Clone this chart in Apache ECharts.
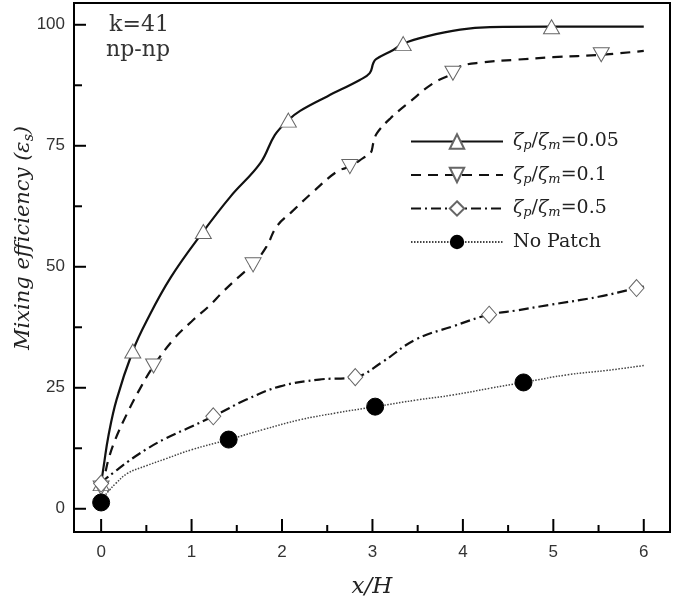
<!DOCTYPE html>
<html>
<head>
<meta charset="utf-8">
<script src="https://cdn.jsdelivr.net/npm/echarts@6/dist/echarts.min.js"></script>
<style>
  html, body { margin: 0; padding: 0; background: #fff; }
  #chart { width: 685px; height: 601px; }
</style>
</head>
<body>
<div id="chart"></div>
<script>
// x ticks / y ticks
const xTicks = [0, 1, 2, 3, 4, 5, 6]
const xMinorTicks = [0.5, 1.5, 2.5, 3.5, 4.5, 5.5]
const yTicks = [0, 25, 50, 75, 100]
const yMinorTicks = [12.5, 37.5, 62.5, 87.5]

// zeta_p/zeta_m = 0.05 (solid, up triangles)
const solidX = [0, 0.03, 0.08, 0.17, 0.35, 0.5, 0.77, 1.13, 1.43, 1.76, 1.92, 2.07, 2.2, 2.5, 2.86, 2.97, 3.01, 3.04, 3.23, 3.34, 3.6, 3.97, 4.3, 4.98, 5.5, 6.0]
const solidY = [5.2, 9, 15, 22.5, 32.6, 38.7, 47.8, 57.3, 64.5, 71.4, 77.2, 80.3, 82.2, 85.2, 88.6, 90, 92.1, 92.9, 94.8, 96.1, 97.6, 99, 99.5, 99.6, 99.6, 99.6]
const solidMarks = [0, 4, 7, 11, 19, 23]

// zeta_p/zeta_m = 0.1 (dashed, down triangles)
const dashX = [0, 0.04, 0.08, 0.15, 0.29, 0.45, 0.58, 0.8, 1.0, 1.2, 1.35, 1.57, 1.68, 1.83, 1.94, 2.11, 2.35, 2.61, 2.75, 2.9, 2.98, 3.01, 3.05, 3.2, 3.42, 3.67, 3.89, 3.97, 4.2, 4.6, 5.0, 5.53, 6.0]
const dashY = [4.3, 7, 10.1, 14, 19.8, 25.5, 29.5, 35, 38.7, 42, 44.9, 48.7, 50.4, 54.2, 58.3, 61.4, 65.6, 69.7, 70.7, 72.5, 73.5, 75.6, 77.6, 80.7, 84.2, 87.9, 90, 91.4, 92.2, 92.8, 93.3, 93.8, 94.6]
const dashMarks = [0, 6, 12, 18, 26, 31]

// zeta_p/zeta_m = 0.5 (dash-dot, diamonds)
const dotDashX = [0, 0.05, 0.14, 0.3, 0.5, 0.71, 1.0, 1.24, 1.6, 1.98, 2.41, 2.81, 3.1, 3.47, 3.89, 4.29, 4.6, 4.95, 5.5, 5.92, 6.0]
const dotDashY = [5.2, 6.2, 7.5, 9.8, 12.3, 14.5, 17, 19.1, 22.5, 25.3, 26.7, 27.2, 30.2, 34.9, 37.7, 40.1, 41, 42.1, 43.8, 45.6, 45.9]
const dotDashMarks = [0, 7, 11, 15, 19]

// No Patch (dotted, filled circles)
const dotX = [0, 0.04, 0.08, 0.16, 0.29, 0.5, 0.71, 1.0, 1.41, 1.8, 2.2, 2.6, 3.03, 3.5, 3.89, 4.3, 4.67, 5.16, 5.6, 6.0]
const dotY = [1.3, 2.6, 3.6, 5.2, 7.3, 8.9, 10.3, 12.2, 14.3, 16.4, 18.4, 19.8, 21.1, 22.5, 23.5, 24.9, 26.1, 27.7, 28.6, 29.6]
const dotMarks = [0, 8, 12, 16]

const names = ['ζp/ζm=0.05', 'ζp/ζm=0.1', 'ζp/ζm=0.5', 'No Patch']
const legendText = {
  'ζp/ζm=0.05': '{z|ζ}{s|p}{n|/}{z|ζ}{s|m}{n|=0.05}',
  'ζp/ζm=0.1': '{z|ζ}{s|p}{n|/}{z|ζ}{s|m}{n|=0.1}',
  'ζp/ζm=0.5': '{z|ζ}{s|p}{n|/}{z|ζ}{s|m}{n|=0.5}',
  'No Patch': '{n|No Patch}'
}

const serif = 'DejaVu Serif'
const X_MIN = -0.3
const X_MAX = 6.29
const Y_MIN = -4.8
const Y_MAX = 104.5

// 把曲线点和标记点合在一起，非标记点不画符号
const buildData = (xs, ys, marks) =>
  xs.map((x, i) => (marks.includes(i) ? [x, ys[i]] : { value: [x, ys[i]], symbol: 'none' }))

const hollow = () => ({ color: '#fff', borderColor: '#666', borderWidth: 1 })

const lineSeries = (name, data, lineStyle, symbol, symbolSize, itemStyle, extra) =>
  Object.assign({
    name,
    type: 'line',
    data,
    smooth: 0.4,
    showSymbol: true,
    showAllSymbol: true,
    symbol,
    symbolSize,
    lineStyle,
    itemStyle
  }, extra || {})

// 刻度线：axisTick 贴边时画不出来，改用 custom 系列按坐标轴换算
const xTickSeries = (values, len) => ({
  type: 'custom',
  silent: true,
  clip: false,
  z: 5,
  data: values.map((v) => [v, Y_MIN]),
  renderItem: (params, api) => {
    const p = api.coord([api.value(0), Y_MIN])
    return { type: 'line', shape: { x1: p[0], y1: p[1], x2: p[0], y2: p[1] - len }, style: { stroke: '#000', lineWidth: 2 } }
  }
})
const yTickSeries = (values, len) => ({
  type: 'custom',
  silent: true,
  clip: false,
  z: 5,
  data: values.map((v) => [X_MIN, v]),
  renderItem: (params, api) => {
    const p = api.coord([X_MIN, api.value(1)])
    return { type: 'line', shape: { x1: p[0], y1: p[1], x2: p[0] + len, y2: p[1] }, style: { stroke: '#000', lineWidth: 2 } }
  }
})

const chart = echarts.init(document.getElementById('chart'))

const option = {
  animation: false,
  backgroundColor: '#fff',
  grid: { left: 74, right: 15, top: 3, bottom: 69 },
  xAxis: {
    type: 'value', min: X_MIN, max: X_MAX,
    splitLine: { show: false },
    axisLine: { show: true, onZero: false, lineStyle: { color: '#000', width: 2 } },
    axisTick: { show: false },
    axisLabel: { customValues: xTicks, margin: 12, color: '#333', fontSize: 17, fontFamily: 'Liberation Sans' }
  },
  yAxis: {
    type: 'value', min: Y_MIN, max: Y_MAX,
    splitLine: { show: false },
    axisLine: { show: true, onZero: false, lineStyle: { color: '#000', width: 2 } },
    axisTick: { show: false },
    axisLabel: { customValues: yTicks, margin: 9, color: '#333', fontSize: 17, fontFamily: 'Liberation Sans' }
  },
  legend: {
    data: names,
    orient: 'vertical',
    left: 410,
    top: 132,
    padding: 0,
    itemGap: 13,
    itemWidth: 92,
    itemHeight: 18,
    formatter: (name) => legendText[name],
    textStyle: {
      fontFamily: serif,
      fontSize: 19,
      color: '#222',
      padding: [0, 0, 0, 5],
      rich: {
        n: { fontFamily: serif, fontSize: 19, color: '#222', lineHeight: 22 },
        z: { fontFamily: serif, fontSize: 19, fontStyle: 'italic', color: '#222', lineHeight: 22 },
        s: { fontFamily: serif, fontSize: 13, fontStyle: 'italic', color: '#222', lineHeight: 12, verticalAlign: 'bottom' }
      }
    }
  },
  graphic: [
    {
      type: 'text', x: 139, y: 25,
      style: { text: 'k=41', fontFamily: serif, fontSize: 22, fill: '#333', align: 'center', verticalAlign: 'middle' }
    },
    {
      type: 'text', x: 138, y: 50,
      style: { text: 'np-np', fontFamily: serif, fontSize: 22, fill: '#333', align: 'center', verticalAlign: 'middle' }
    },
    {
      type: 'text', x: 24, y: 238, rotation: Math.PI / 2,
      style: {
        text: '{i|Mixing efficiency (ε}{s|s}{i|)}',
        align: 'center', verticalAlign: 'middle',
        rich: {
          i: { fontFamily: serif, fontStyle: 'italic', fontSize: 21, fill: '#222', lineHeight: 24 },
          s: { fontFamily: serif, fontStyle: 'italic', fontSize: 14, fill: '#222', lineHeight: 14, verticalAlign: 'bottom' }
        }
      }
    },
    {
      type: 'text', x: 372, y: 587,
      style: { text: 'x/H', fontFamily: serif, fontStyle: 'italic', fontSize: 23, fill: '#222', align: 'center', verticalAlign: 'middle' }
    }
  ],
  series: [
    lineSeries(names[0], buildData(solidX, solidY, solidMarks),
      { color: '#111', width: 2.2, type: 'solid' }, 'triangle', [16, 14], hollow()),
    lineSeries(names[1], buildData(dashX, dashY, dashMarks),
      { color: '#111', width: 2.2, type: [10, 7] }, 'triangle', [16, 14], hollow(), { symbolRotate: 180 }),
    lineSeries(names[2], buildData(dotDashX, dotDashY, dotDashMarks),
      { color: '#111', width: 2.2, type: [10, 4, 2, 4] }, 'diamond', [15, 17], hollow()),
    lineSeries(names[3], buildData(dotX, dotY, dotMarks),
      { color: '#444', width: 1.5, type: [1.5, 1.5] }, 'circle', 17, { color: '#000', borderColor: '#000' }),
    xTickSeries(xTicks, 13),
    xTickSeries(xMinorTicks, 7),
    yTickSeries(yTicks, 12),
    yTickSeries(yMinorTicks, 8)
  ]
}

chart.setOption(option)

// 外框：按坐标轴范围换算出像素矩形
const tl = chart.convertToPixel({ gridIndex: 0 }, [X_MIN, Y_MAX])
const br = chart.convertToPixel({ gridIndex: 0 }, [X_MAX, Y_MIN])
chart.setOption({
  graphic: {
    elements: [
      {
        id: 'frame', type: 'rect', silent: true, z: 10,
        shape: { x: tl[0], y: tl[1], width: br[0] - tl[0], height: br[1] - tl[1] },
        style: { fill: 'none', stroke: '#000', lineWidth: 2 }
      }
    ]
  }
})
</script>
</body>
</html>
